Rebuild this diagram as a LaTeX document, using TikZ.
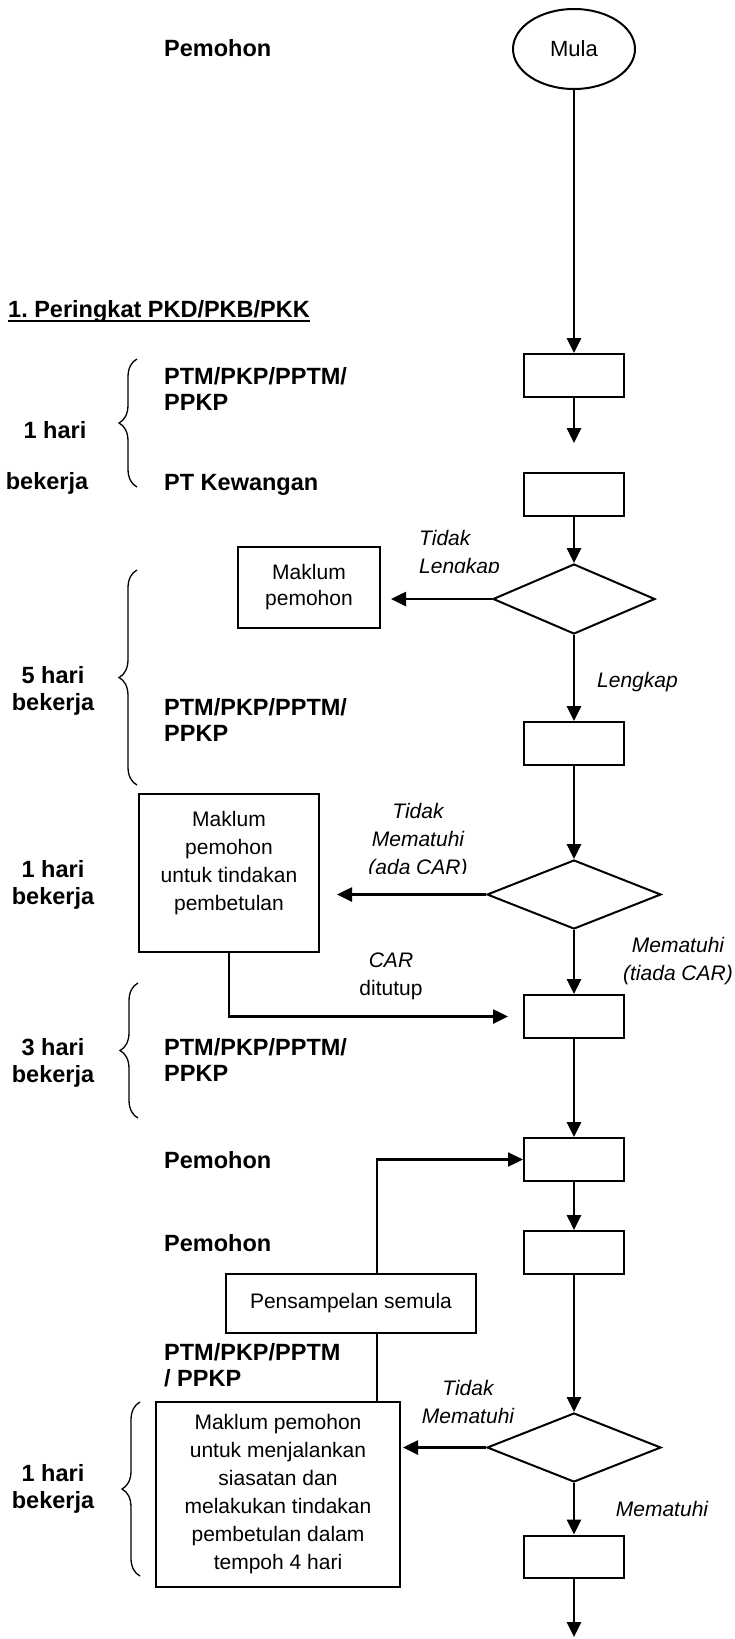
\documentclass[tikz,border=0pt]{standalone}
\usepackage{fontspec}
\setmainfont{Liberation Sans}
\usetikzlibrary{shapes.geometric,arrows.meta,decorations.pathreplacing}

\begin{document}
\begin{tikzpicture}[x=1pt,y=-1pt,
    box/.style={draw,line width=2pt,minimum width=100pt,minimum height=43pt},
    choice/.style={draw,diamond,line width=2pt,minimum width=174pt,minimum height=69pt},
    flow/.style={line width=2.6pt,-{Triangle[length=15pt,width=14pt]}},
    link/.style={line width=2.2pt},
    who/.style={font=\fontsize{23.5}{26}\selectfont\bfseries,align=left,anchor=west},
    days/.style={font=\fontsize{23.5}{27}\selectfont\bfseries,align=center},
    note/.style={font=\fontsize{21}{28}\selectfont,align=center},
    answer/.style={font=\fontsize{21}{28}\selectfont\itshape,align=center},
    period/.style={decorate,decoration={brace,amplitude=18pt},line width=1.3pt}]
    \tikzstyle{every node}=[inner sep=0pt]
    \useasboundingbox (0,0) rectangle (735,1639);

    \node[who] (who0) at (164,48) {Pemohon};
    \node[draw,ellipse,line width=2pt,minimum width=122pt,minimum height=80pt,
      font=\fontsize{22}{24}\selectfont] (mula) at (574,49) {Mula};
    \node[who] (head) at (8,311) {1.\ Peringkat PKD/PKB/PKK};
    \draw[line width=1.8pt] ([yshift=-4pt]head.base west) -- ([yshift=-4pt]head.base east);

    \node[box] (b1) at (574,375.5) {};
    \coordinate (gap1) at (574,443);
    \node[box] (b2) at (574,494.5) {};
    \node[choice,minimum width=162pt,minimum height=70pt] (d1) at (574,599) {};
    \node[box,draw,note,minimum width=142pt,minimum height=81pt] (m1) at (309,587.5) {Maklum\\[-2pt]pemohon};
    \node[box] (b3) at (574,743.5) {};
    \node[choice] (d2) at (574,894.5) {};
    \node[box,minimum width=180pt,minimum height=158pt] (m2) at (229,873) {};
    \node[note] (m2text) at (229,863) {Maklum\\pemohon\\untuk tindakan\\pembetulan};
    \node[box] (b4) at (574,1016.5) {};
    \node[box] (b5) at (574,1159.5) {};
    \node[box] (b6) at (574,1252.5) {};
    \node[box,note,minimum width=250pt,minimum height=59pt] (ps) at (351,1303.5) {Pensampelan semula};
    \node[choice] (d3) at (574,1447.5) {};
    \node[box,note,minimum width=244pt,minimum height=185pt] (m3) at (278,1494.5)
      {Maklum pemohon\\untuk menjalankan\\siasatan dan\\melakukan tindakan\\pembetulan dalam\\tempoh 4 hari};
    \node[box,minimum height=42pt] (b7) at (574,1556.5) {};
    \coordinate (out) at (574,1637);

    % labels on the left
    \node[who] (who1) at (164,389) {PTM/PKP/PPTM/\\PPKP};
    \node[who] (who2) at (164,485) {PT Kewangan};
    \node[who] (who3) at (164,720) {PTM/PKP/PPTM/\\PPKP};
    \node[who] (who4) at (164,1060) {PTM/PKP/PPTM/\\PPKP};
    \node[who] (who5) at (164,1160) {Pemohon};
    \node[who] (who6) at (164,1243) {Pemohon};
    \node[who] (who7) at (164,1365) {PTM/PKP/PPTM\\/ PPKP};

    \node[days] (t1a) at (55,430) {1 hari};
    \node[days] (t1b) at (47,483) {bekerja};
    \node[days] (t2) at (53,691) {5 hari\\bekerja};
    \node[days] (t3) at (53,885) {1 hari\\bekerja};
    \node[days] (t4) at (53,1063) {3 hari\\bekerja};
    \node[days] (t5) at (53,1489) {1 hari\\bekerja};

    \draw[period] (137,487) -- (137,359);
    \draw[period] (137,785) -- (137,570);
    \draw[period] (138,1118) -- (138,983);
    \draw[period] (140,1576) -- (140,1402);

    % answers
    \begin{scope}
      \clip (400,520) rectangle (530,572);
      \node[answer,align=left,anchor=west] (no1) at (419,554) {Tidak\\Lengkap};
    \end{scope}
    \begin{scope}
      \clip (350,790) rectangle (490,873);
      \node[answer] (no2) at (418,841) {Tidak\\Mematuhi\\(ada CAR)};
    \end{scope}
    \node[answer] (yes1) at (637.5,682) {Lengkap};
    \node[answer] (yes2) at (678,961) {Mematuhi\\(tiada CAR)};
    \node[note] (car) at (391,976) {{\itshape CAR}\\ditutup};
    \node[answer] (no3) at (468,1402) {Tidak\\Mematuhi};
    \node[answer] (yes3) at (662,1509) {Mematuhi};

    % connectors
    \draw[flow] (mula) -- (b1);
    \draw[flow] (b1) -- (gap1);
    \draw[flow] (b2) -- (d1);
    \draw[flow,shorten >=10pt] (d1.west) -- (d1.west -| m1.east);
    \draw[flow] (d1) -- (b3);
    \draw[flow] (b3) -- (d2);
    \draw[flow,shorten >=17pt] (d2.west) -- (d2.west -| m2.east);
    \draw[flow] (d2) -- (b4);
    \draw[flow,shorten >=15pt] (m2.south) |- (b4.west);
    \draw[flow] (b4) -- (b5);
    \draw[flow] (b5) -- (b6);
    \draw[flow] (b6) -- (d3);
    \draw[flow,shorten >=2pt] (d3.west) -- (d3.west -| m3.east);
    \draw[flow] (d3) -- (b7);
    \draw[flow] (b7) -- (out);
    \draw[link,-{Triangle[length=15pt,width=14pt]}] ([xshift=26pt]ps.north) |- (b5.west);
    \draw[link] ([xshift=99pt]m3.north) -- ([xshift=26pt]ps.south);
\end{tikzpicture}
\end{document}
